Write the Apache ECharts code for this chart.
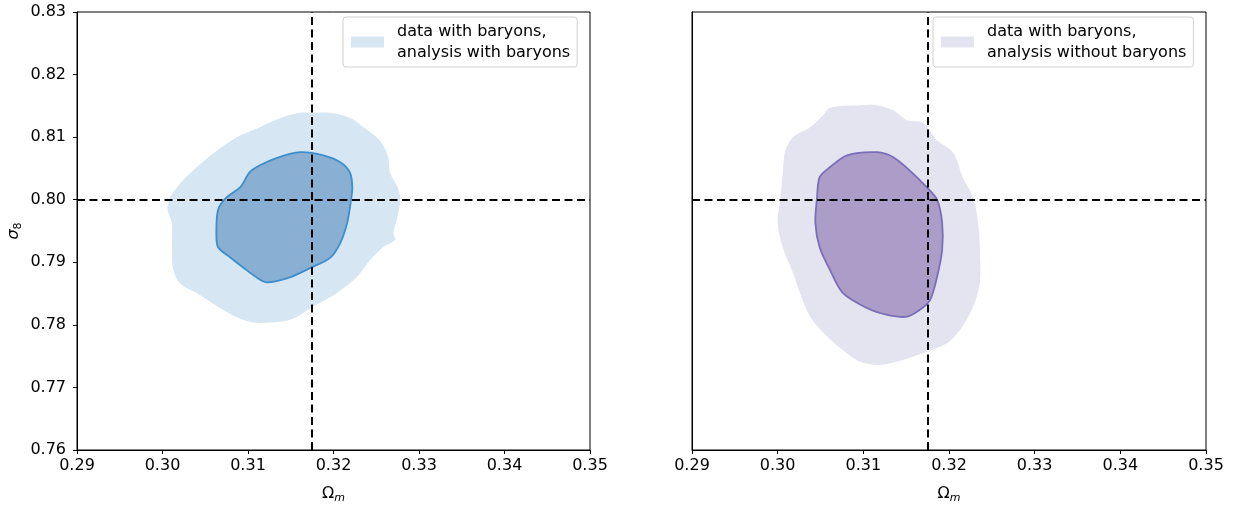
<!DOCTYPE html>
<html>
<head>
<meta charset="utf-8">
<script src="https://cdn.jsdelivr.net/npm/echarts@6/dist/echarts.min.js"></script>
<style>
  html, body { margin: 0; padding: 0; background: #fff; }
  #chart { width: 1241px; height: 505px; }
</style>
</head>
<body>
<div id="chart"></div>
<script>
// Fiducial cosmology
const omegaFid = 0.3175;
const sigma8Fid = 0.80;

// Axis ticks
const xTicks = [0.29, 0.30, 0.31, 0.32, 0.33, 0.34, 0.35];
const yTicks = [0.76, 0.77, 0.78, 0.79, 0.80, 0.81, 0.82, 0.83];

const legendLeft = 'data with baryons,\nanalysis with baryons';
const legendRight = 'data with baryons,\nanalysis without baryons';

// Contours [Omega_m, sigma_8] — analysis with baryons
const withOuter95 = [
  [0.3173, 0.8139], [0.3196, 0.8139], [0.3219, 0.8131], [0.3235, 0.8116], [0.3254, 0.8095],
  [0.3264, 0.8068], [0.3266, 0.8043], [0.3275, 0.8020], [0.3278, 0.8000], [0.3274, 0.7968],
  [0.3270, 0.7947], [0.3272, 0.7936], [0.3258, 0.7924], [0.3243, 0.7904], [0.3227, 0.7876],
  [0.3204, 0.7851], [0.3176, 0.7829], [0.3149, 0.7808], [0.3114, 0.7803], [0.3094, 0.7808],
  [0.3071, 0.7824], [0.3040, 0.7851], [0.3020, 0.7867], [0.3012, 0.7892], [0.3011, 0.7931],
  [0.3011, 0.7963], [0.3006, 0.7984], [0.3009, 0.8004], [0.3024, 0.8031], [0.3040, 0.8052],
  [0.3064, 0.8079], [0.3087, 0.8100], [0.3114, 0.8116], [0.3141, 0.8132], [0.3161, 0.8139]
];
const withInner68 = [
  [0.3161, 0.8076], [0.3188, 0.8071], [0.3208, 0.8060], [0.3219, 0.8044], [0.3222, 0.8020],
  [0.3220, 0.7995], [0.3216, 0.7963], [0.3208, 0.7931], [0.3196, 0.7907], [0.3173, 0.7891],
  [0.3149, 0.7876], [0.3122, 0.7868], [0.3111, 0.7875], [0.3094, 0.7892], [0.3079, 0.7908],
  [0.3065, 0.7924], [0.3063, 0.7947], [0.3065, 0.7984], [0.3075, 0.8004], [0.3091, 0.8020],
  [0.3102, 0.8044], [0.3114, 0.8055], [0.3134, 0.8067]
];

// Contours [Omega_m, sigma_8] — analysis without baryons
const withoutOuter95 = [
  [0.3061, 0.8147], [0.3096, 0.8151], [0.3116, 0.8151], [0.3135, 0.8143], [0.3151, 0.8127],
  [0.3170, 0.8123], [0.3186, 0.8095], [0.3205, 0.8075], [0.3216, 0.8036], [0.3228, 0.8004],
  [0.3234, 0.7963], [0.3236, 0.7920], [0.3236, 0.7867], [0.3228, 0.7829], [0.3213, 0.7792],
  [0.3198, 0.7771], [0.3170, 0.7755], [0.3146, 0.7744], [0.3119, 0.7736], [0.3096, 0.7741],
  [0.3076, 0.7760], [0.3058, 0.7781], [0.3038, 0.7813], [0.3026, 0.7851], [0.3018, 0.7883],
  [0.3006, 0.7924], [0.3000, 0.7963], [0.3003, 0.8000], [0.3006, 0.8043], [0.3009, 0.8079],
  [0.3018, 0.8100], [0.3038, 0.8116], [0.3053, 0.8135]
];
const withoutInner68 = [
  [0.3081, 0.8071], [0.3116, 0.8076], [0.3135, 0.8068], [0.3154, 0.8047], [0.3174, 0.8020],
  [0.3186, 0.8000], [0.3192, 0.7963], [0.3192, 0.7920], [0.3186, 0.7876], [0.3178, 0.7840],
  [0.3166, 0.7824], [0.3151, 0.7813], [0.3128, 0.7816], [0.3104, 0.7827], [0.3076, 0.7851],
  [0.3061, 0.7888], [0.3049, 0.7924], [0.3044, 0.7963], [0.3046, 0.8004], [0.3049, 0.8036],
  [0.3061, 0.8052]
];

const FONT = 'DejaVu Sans';

function contourSeries(name, pts, axisIndex, fill, stroke, z) {
  return {
    type: 'custom',
    name: name,
    xAxisIndex: axisIndex,
    yAxisIndex: axisIndex,
    coordinateSystem: 'cartesian2d',
    z: z,
    silent: true,
    itemStyle: { color: fill },
    data: [pts[0]],
    renderItem: function (params, api) {
      return {
        type: 'polygon',
        shape: { points: pts.map(p => api.coord(p)), smooth: 0.3 },
        style: {
          fill: fill,
          stroke: stroke || 'none',
          lineWidth: stroke ? 1.8 : 0
        }
      };
    }
  };
}

function fiducialLines(axisIndex) {
  return {
    type: 'line',
    xAxisIndex: axisIndex,
    yAxisIndex: axisIndex,
    data: [],
    z: 10,
    silent: true,
    markLine: {
      silent: true,
      symbol: 'none',
      precision: 5,
      label: { show: false },
      lineStyle: { color: '#000', width: 2, type: [8, 4.5] },
      data: [{ xAxis: omegaFid }, { yAxis: sigma8Fid }]
    }
  };
}

function xAxisDef(gridIndex) {
  return {
    type: 'value',
    gridIndex: gridIndex,
    min: xTicks[0],
    max: xTicks[xTicks.length - 1],
    interval: 0.01,
    name: '{o|Ω}{m|m}',
    nameLocation: 'middle',
    nameGap: 33,
    nameTextStyle: {
      color: '#000',
      rich: {
        o: { fontFamily: FONT, fontSize: 16, color: '#000' },
        m: { fontFamily: FONT, fontSize: 11, fontStyle: 'italic', color: '#000', padding: [10, 0, 0, 0] }
      }
    },
    axisLine: { show: true, onZero: false, lineStyle: { color: '#000', width: 1 } },
    axisTick: { show: true, inside: false, length: 4, lineStyle: { color: '#000', width: 1 } },
    axisLabel: {
      color: '#000', fontFamily: FONT, fontSize: 16, margin: 8,
      formatter: v => v.toFixed(2)
    },
    splitLine: { show: false }
  };
}

function yAxisDef(gridIndex, withLabels) {
  return {
    type: 'value',
    gridIndex: gridIndex,
    min: yTicks[0],
    max: yTicks[yTicks.length - 1],
    interval: 0.01,
    name: withLabels ? '{s|σ}{n|8}' : '',
    nameLocation: 'middle',
    nameGap: 53,
    nameRotate: 90,
    nameTextStyle: {
      color: '#000',
      rich: {
        s: { fontFamily: FONT, fontSize: 16, fontStyle: 'italic', color: '#000' },
        n: { fontFamily: FONT, fontSize: 11, color: '#000', padding: [9, 0, 0, 0] }
      }
    },
    axisLine: { show: true, onZero: false, lineStyle: { color: '#000', width: 1 } },
    axisTick: { show: withLabels, inside: false, length: 4, lineStyle: { color: '#000', width: 1 } },
    axisLabel: {
      show: withLabels,
      color: '#000', fontFamily: FONT, fontSize: 16, margin: 11,
      formatter: v => v.toFixed(2)
    },
    splitLine: { show: false }
  };
}

function legendDef(left, name) {
  return {
    left: left,
    top: 17,
    orient: 'vertical',
    data: [{ name: name, icon: 'rect' }],
    itemWidth: 33,
    itemHeight: 11,
    padding: [4, 7, 4, 8],
    borderColor: '#d0d0d0',
    borderWidth: 1,
    borderRadius: 3,
    backgroundColor: 'rgba(255,255,255,0.8)',
    selectedMode: false,
    textStyle: {
      fontFamily: FONT, fontSize: 16, color: '#000', lineHeight: 21,
      padding: [0, 0, 0, 8]
    }
  };
}

const gridBase = {
  top: 12, height: 438, show: true,
  borderColor: '#000', borderWidth: 1, backgroundColor: 'transparent',
  containLabel: false, outerBoundsMode: 'none'
};

const chart = echarts.init(document.getElementById('chart'), null, { renderer: 'canvas' });
chart.setOption({
  animation: false,
  backgroundColor: '#fff',
  grid: [
    Object.assign({}, gridBase, { left: 77, width: 513 }),
    Object.assign({}, gridBase, { left: 692, width: 514 })
  ],
  xAxis: [xAxisDef(0), xAxisDef(1)],
  yAxis: [yAxisDef(0, true), yAxisDef(1, false)],
  legend: [legendDef(343, legendLeft), legendDef(933, legendRight)],
  series: [
    contourSeries(legendLeft, withOuter95, 0, '#d6e6f2', null, 1),
    contourSeries('with-68', withInner68, 0, '#89afd3', '#3d8ecb', 2),
    fiducialLines(0),
    contourSeries(legendRight, withoutOuter95, 1, '#e4e3f0', null, 1),
    contourSeries('without-68', withoutInner68, 1, '#ab9cc8', '#7a6eb9', 2),
    fiducialLines(1)
  ]
});
</script>
</body>
</html>
